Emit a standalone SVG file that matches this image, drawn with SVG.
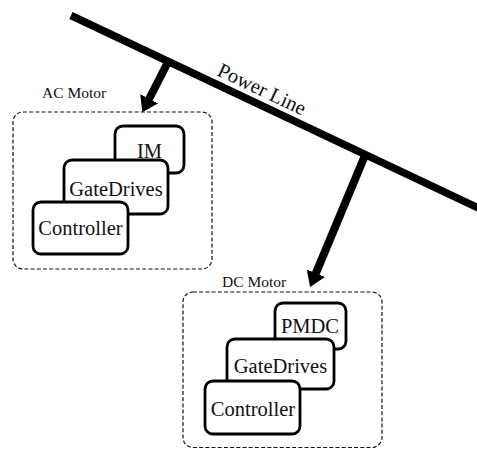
<svg xmlns="http://www.w3.org/2000/svg" width="477" height="449" viewBox="0 0 477 449" font-family="'Liberation Serif', 'Times New Roman', serif">
<style>
text{font-family:"Liberation Serif","Times New Roman",serif;fill:#111;}
.lbl{font-size:15.5px;}
.bx{font-size:20.5px;text-anchor:middle;}
.dash{fill:none;stroke:#111;stroke-width:1.2;stroke-dasharray:4 2.2;}
.blk{fill:#fff;stroke:#000;stroke-width:2.8;}
.stem{stroke:#000;stroke-width:8;fill:none;}
</style>
<defs>
<marker id="ah" markerUnits="userSpaceOnUse" viewBox="0 -10 15 20" markerWidth="15" markerHeight="20" refX="1" refY="0" orient="auto">
<path d="M0,-10 L15,0 L0,10 Z" fill="#000"/>
</marker>
</defs>
<g id="connectors">
<line id="power-line" x1="71" y1="15.5" x2="495" y2="215.9" stroke="#000" stroke-width="7.5"/>
<text font-family="Liberation Serif, serif" font-size="20.5" transform="translate(216,75) rotate(25.3)">Power Line</text>
<line class="stem" x1="168" y1="62" x2="148.7" y2="99.7" marker-end="url(#ah)"/>
<line class="stem" x1="366" y1="153" x2="315.5" y2="274.1" marker-end="url(#ah)"/>
</g>
<g id="ac-motor">
<rect class="dash" x="13" y="112" width="199" height="157" rx="10"/>
<text class="lbl" font-family="Liberation Serif, serif" x="42" y="98">AC Motor</text>
</g>
<g id="ac-im">
<rect class="blk" x="115" y="126" width="69" height="47" rx="8"/>
<text class="bx" font-family="Liberation Serif, serif" x="149.5" y="158">IM</text>
</g>
<g id="ac-gatedrives">
<rect class="blk" x="64" y="160" width="104" height="54" rx="8"/>
<text class="bx" font-family="Liberation Serif, serif" x="116" y="196">GateDrives</text>
</g>
<g id="ac-controller">
<rect class="blk" x="33" y="202" width="95" height="52" rx="8"/>
<text class="bx" font-family="Liberation Serif, serif" x="80.5" y="235">Controller</text>
</g>
<g id="dc-motor">
<rect class="dash" x="183" y="292" width="199" height="155.5" rx="10"/>
<text class="lbl" font-family="Liberation Serif, serif" x="222" y="287">DC Motor</text>
</g>
<g id="dc-pmdc">
<rect class="blk" x="275" y="303" width="71" height="46" rx="8"/>
<text class="bx" font-family="Liberation Serif, serif" x="310" y="333">PMDC</text>
</g>
<g id="dc-gatedrives">
<rect class="blk" x="227" y="339" width="107" height="50" rx="8"/>
<text class="bx" font-family="Liberation Serif, serif" x="280.5" y="373">GateDrives</text>
</g>
<g id="dc-controller">
<rect class="blk" x="205" y="381" width="95" height="53" rx="8"/>
<text class="bx" font-family="Liberation Serif, serif" x="253" y="416">Controller</text>
</g>
</svg>
